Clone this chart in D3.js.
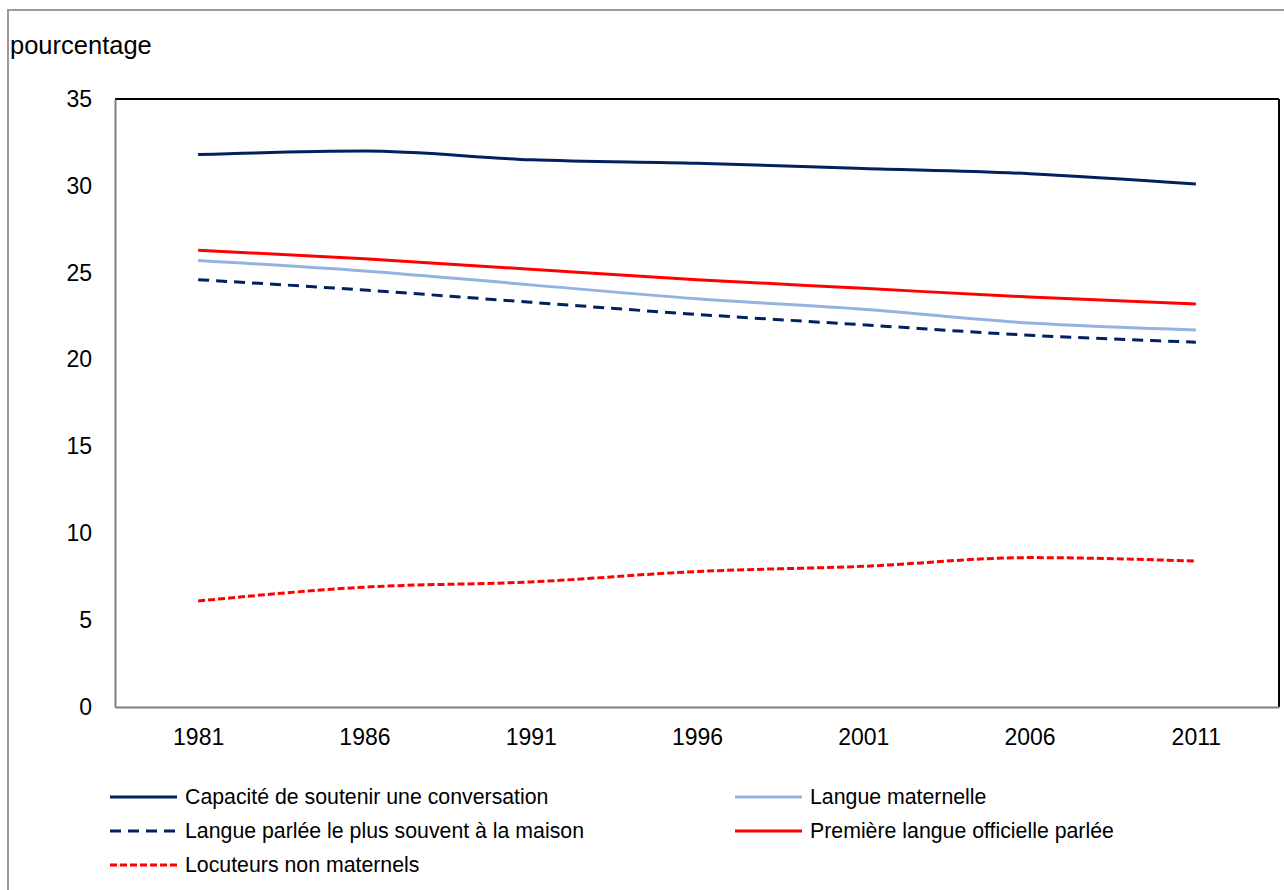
<!DOCTYPE html>
<html>
<head>
<meta charset="utf-8">
<script src="https://cdn.jsdelivr.net/npm/d3@7"></script>
<style>
  body { margin: 0; background: #fff; }
  svg { display: block; font-family: "Liberation Sans", Arial, sans-serif; }
</style>
</head>
<body>
<svg id="chart" width="1284" height="890"></svg>
<script>
// Years on the x axis
const years = ['1981', '1986', '1991', '1996', '2001', '2006', '2011'];

// Series values (percentage)
const capacite = [31.8, 32.0, 31.5, 31.3, 31.0, 30.7, 30.1];
const langueMaternelle = [25.7, 25.1, 24.3, 23.5, 22.9, 22.1, 21.7];
const langueMaison = [24.6, 24.0, 23.3, 22.6, 22.0, 21.4, 21.0];
const premiereLangue = [26.3, 25.8, 25.2, 24.6, 24.1, 23.6, 23.2];
const nonMaternels = [6.1, 6.9, 7.2, 7.8, 8.1, 8.6, 8.4];

const yTicks = [0, 5, 10, 15, 20, 25, 30, 35];

const seriesNames = [
    'Capacité de soutenir une conversation',
    'Langue maternelle',
    'Langue parlée le plus souvent à la maison',
    'Première langue officielle parlée',
    'Locuteurs non maternels'
];

// Styles per series (same order as seriesNames)
const seriesValues = [capacite, langueMaternelle, langueMaison, premiereLangue, nonMaternels];
const styles = [
    { color: '#002060', dash: null },
    { color: '#95b3e0', dash: null },
    { color: '#002060', dash: '11,7' },
    { color: '#ff0000', dash: null },
    { color: '#ff0000', dash: '7,3' }
];

const svg = d3.select('#chart');
const margin = { left: 115, top: 99, right: 1279, bottom: 707 };

// Outer chart frame (only top and left visible in the picture)
svg.append('rect')
    .attr('x', 8).attr('y', 10)
    .attr('width', 1300).attr('height', 900)
    .attr('fill', 'none')
    .attr('stroke', '#9a9a9a')
    .attr('stroke-width', 2);

const x = d3.scalePoint()
    .domain(years)
    .range([margin.left, margin.right])
    .padding(0.5);

const y = d3.scaleLinear()
    .domain([0, 35])
    .range([margin.bottom, margin.top]);

// Plot area border: top/right black, left/bottom grey
svg.append('line')
    .attr('x1', margin.left).attr('x2', margin.right)
    .attr('y1', margin.top).attr('y2', margin.top)
    .attr('stroke', '#000').attr('stroke-width', 2);
svg.append('line')
    .attr('x1', margin.right).attr('x2', margin.right)
    .attr('y1', margin.top).attr('y2', margin.bottom)
    .attr('stroke', '#000').attr('stroke-width', 2);

// Axes
const yAxis = svg.append('g')
    .attr('transform', `translate(${margin.left},0)`)
    .call(d3.axisLeft(y).tickValues(yTicks).tickSize(0).tickPadding(23));
const xAxis = svg.append('g')
    .attr('transform', `translate(0,${margin.bottom})`)
    .call(d3.axisBottom(x).tickSize(0).tickPadding(22));

[yAxis, xAxis].forEach(ax => {
    ax.select('.domain').attr('stroke', '#808080').attr('stroke-width', 2);
    ax.selectAll('text')
        .attr('font-family', '"Liberation Sans", Arial, sans-serif')
        .attr('font-size', 23)
        .attr('fill', '#000');
});

svg.append('text')
    .attr('x', 10).attr('y', 54)
    .attr('font-size', 25.5)
    .text('pourcentage');

// Lines
const line = d3.line()
    .x((d, i) => x(years[i]))
    .y(d => y(d))
    .curve(d3.curveMonotoneX);

svg.append('g')
    .selectAll('path')
    .data(seriesValues)
    .enter()
    .append('path')
    .attr('d', d => line(d))
    .attr('fill', 'none')
    .attr('stroke', (d, i) => styles[i].color)
    .attr('stroke-width', 3)
    .attr('stroke-dasharray', (d, i) => styles[i].dash);

// Legend: two columns, three rows
const legendPos = [
    [110, 797], [735, 797],
    [110, 831], [735, 831],
    [110, 865]
];

const legend = svg.append('g')
    .selectAll('g')
    .data(seriesNames)
    .enter()
    .append('g')
    .attr('transform', (d, i) => `translate(${legendPos[i][0]},${legendPos[i][1]})`);

legend.append('line')
    .attr('x1', 0).attr('x2', 67)
    .attr('y1', 0).attr('y2', 0)
    .attr('stroke', (d, i) => styles[i].color)
    .attr('stroke-width', 3)
    .attr('stroke-dasharray', (d, i) => styles[i].dash);

legend.append('text')
    .attr('x', 75)
    .attr('y', 0)
    .attr('dy', '0.35em')
    .attr('font-size', 21.3)
    .text(d => d);
</script>
</body>
</html>
